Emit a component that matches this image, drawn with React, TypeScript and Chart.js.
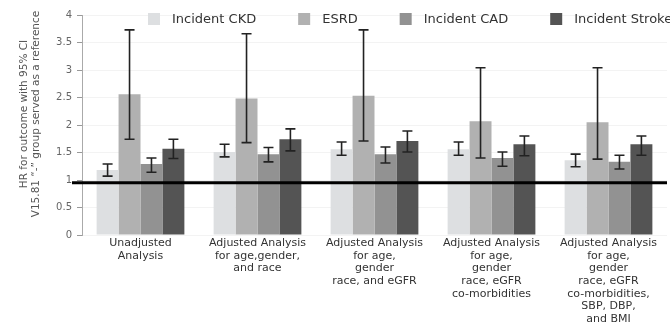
import React, { useEffect, useRef } from "react";
import { Chart, registerables } from "chart.js";

Chart.register(...registerables);

const categories: string[][] = [
  ["Unadjusted", "Analysis"],
  ["Adjusted Analysis", "for age,gender,", "and race"],
  ["Adjusted Analysis", "for age,", "gender", "race, and eGFR"],
  ["Adjusted Analysis", "for age,", "gender", "race, eGFR", "co-morbidities"],
  ["Adjusted Analysis", "for age,", "gender", "race, eGFR", "co-morbidities,", "SBP, DBP,", "and BMI"],
];

const seriesNames = ["Incident CKD", "ESRD", "Incident CAD", "Incident Stroke"];
const seriesColors = ["#dddfe1", "#b1b1b1", "#929292", "#545454"];

const ckd = [1.18, 1.51, 1.56, 1.56, 1.36];
const ckdLow = [1.07, 1.42, 1.45, 1.45, 1.24];
const ckdHigh = [1.29, 1.65, 1.69, 1.69, 1.47];

const esrd = [2.56, 2.48, 2.53, 2.07, 2.05];
const esrdLow = [1.74, 1.68, 1.71, 1.4, 1.38];
const esrdHigh = [3.73, 3.66, 3.73, 3.04, 3.04];

const cad = [1.29, 1.47, 1.47, 1.4, 1.33];
const cadLow = [1.14, 1.33, 1.31, 1.25, 1.2];
const cadHigh = [1.4, 1.59, 1.6, 1.51, 1.45];

const stroke = [1.57, 1.74, 1.71, 1.65, 1.65];
const strokeLow = [1.39, 1.53, 1.51, 1.44, 1.45];
const strokeHigh = [1.74, 1.93, 1.89, 1.8, 1.8];

const referenceValue = 0.95;
const yTitle = ["HR for outcome with 95% CI", "V15.81 \u201c-\u201d group served as a reference"];

const FONT = "'DejaVu Sans', Verdana, sans-serif";

export default function App() {
  const ref = useRef<HTMLCanvasElement | null>(null);

  useEffect(() => {
    const canvas = ref.current;
    if (!canvas) return;
    const lows = [ckdLow, esrdLow, cadLow, strokeLow];
    const highs = [ckdHigh, esrdHigh, cadHigh, strokeHigh];

    const overlay = {
      id: "overlay",
      afterDatasetsDraw(chart: any) {
        const ctx = chart.ctx;
        const y = chart.scales.y;
        const area = chart.chartArea;
        ctx.save();
        // error bars
        ctx.strokeStyle = "#222";
        ctx.lineWidth = 1.6;
        chart.data.datasets.forEach((ds: any, di: number) => {
          const meta = chart.getDatasetMeta(di);
          meta.data.forEach((bar: any, i: number) => {
            const x = bar.x;
            const yl = y.getPixelForValue(lows[di][i]);
            const yh = y.getPixelForValue(highs[di][i]);
            const cap = 5;
            ctx.beginPath();
            ctx.moveTo(x, yl);
            ctx.lineTo(x, yh);
            ctx.moveTo(x - cap, yl);
            ctx.lineTo(x + cap, yl);
            ctx.moveTo(x - cap, yh);
            ctx.lineTo(x + cap, yh);
            ctx.stroke();
          });
        });
        // reference line
        const ry = y.getPixelForValue(referenceValue);
        ctx.strokeStyle = "#000";
        ctx.lineWidth = 3;
        ctx.beginPath();
        ctx.moveTo(area.left - 10, ry);
        ctx.lineTo(area.right, ry);
        ctx.stroke();

        // legend
        ctx.font = `13px ${FONT}`;
        ctx.textBaseline = "middle";
        ctx.textAlign = "left";
        let lx = 148;
        const ly = 19;
        chart.data.datasets.forEach((ds: any) => {
          ctx.fillStyle = ds.backgroundColor;
          ctx.fillRect(lx, ly - 6, 12, 12);
          ctx.fillStyle = "#333";
          ctx.fillText(ds.label, lx + 24, ly + 1);
          lx += 24 + ctx.measureText(ds.label).width + 42;
        });

        // y title
        ctx.save();
        ctx.translate(30, 114);
        ctx.rotate(-Math.PI / 2);
        ctx.font = `10.5px ${FONT}`;
        ctx.fillStyle = "#555";
        ctx.textAlign = "center";
        ctx.textBaseline = "middle";
        ctx.fillText(yTitle[0], 0, -5.5);
        ctx.fillText(yTitle[1], 0, 6.5);
        ctx.restore();
        ctx.restore();
      },
    };

    const chart = new Chart(canvas, {
      type: "bar",
      data: {
        labels: categories,
        datasets: [ckd, esrd, cad, stroke].map((d, i) => ({
          label: seriesNames[i],
          data: d,
          backgroundColor: seriesColors[i],
          borderWidth: 0,
          categoryPercentage: 0.75,
          barPercentage: 1.0,
        })),
      },
      options: {
        animation: false,
        responsive: true,
        maintainAspectRatio: false,
        layout: { padding: { top: 15, right: 3, left: 0, bottom: 0 } },
        plugins: { legend: { display: false }, tooltip: { enabled: false } },
        scales: {
          x: {
            grid: { display: false, drawTicks: false },
            border: { display: false },
            ticks: {
              padding: 2,
              maxRotation: 0,
              autoSkip: false,
              color: "#333",
              font: { family: FONT, size: 11, lineHeight: 1.15 },
            },
            afterFit(scale: any) {
              scale.height = 90;
            },
          },
          y: {
            min: 0,
            max: 4,
            ticks: {
              stepSize: 0.5,
              padding: 5,
              color: "#666",
              font: { family: FONT, size: 10 },
              callback: (v: any) => String(Number(v)),
            },
            grid: { color: "#f3f3f3", tickColor: "#999", tickLength: 5 },
            border: { color: "#aaa" },
            afterFit(scale: any) {
              scale.width = 82;
            },
          },
        },
      },
      plugins: [overlay],
    });
    return () => chart.destroy();
  }, []);

  return (
    <div style={{ position: "fixed", left: 0, top: 0, width: 670, height: 325, background: "#fff" }}>
      <canvas ref={ref} />
    </div>
  );
}
